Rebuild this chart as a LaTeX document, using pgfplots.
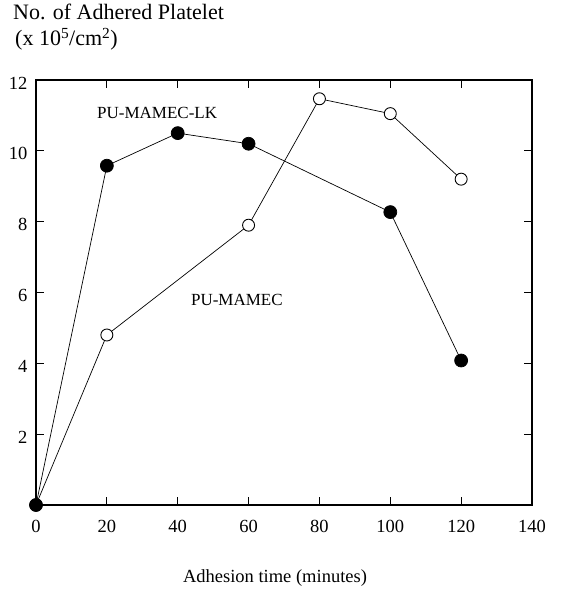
\documentclass[border=0pt]{standalone}
\usepackage{fontspec}
\setmainfont{Liberation Serif}
\usepackage{pgfplots}
\pgfplotsset{compat=1.18}
\usetikzlibrary{calc}

\newcommand{\lab}{\fontsize{17}{20}\selectfont}
\newcommand{\tlab}{\fontsize{18.5}{22}\selectfont}
\newcommand{\ttl}{\fontsize{22}{26}\selectfont}

\begin{document}
\begin{tikzpicture}
\begin{axis}[
    name=ax,
    scale only axis, width=496pt, height=425pt,
    xmin=0, xmax=140, ymin=0, ymax=12,
    xtick={0,20,...,140}, ytick={2,4,...,12},
    tick align=inside, tick pos=both,
    major tick length=8pt,
    axis line style={line width=1.3pt},
    tick style={line width=1pt, black},
    tick label style={font=\tlab},
    /pgf/number format/assume math mode=true,
    xticklabel style={yshift=-12pt},
    yticklabel style={xshift=-5pt, yshift=-3pt},
    clip=false,
]
% PU-MAMEC (open circles)
\addplot[black, line width=0.7pt, mark=*, mark size=6pt,
    mark options={fill=white, line width=0.9pt}] coordinates {
    (0,0)(20,4.8)(60,7.9)(80,11.47)(100,11.05)(120,9.2)
};
% PU-MAMEC-LK (filled circles)
\addplot[black, line width=0.7pt, mark=*, mark size=6.5pt,
    mark options={fill=black}] coordinates {
    (0,0)(20,9.58)(40,10.5)(60,10.2)(100,8.27)(120,4.08)
};
\node[font=\lab] at (axis cs:34.2,11.07) {PU-MAMEC-LK};
\node[font=\lab] at (axis cs:56.7,5.79) {PU-MAMEC};
\end{axis}
\path ($(ax.south west)+(-36pt,-94pt)$) rectangle ($(ax.north east)+(33pt,80pt)$);
\node[font=\ttl, anchor=base west, inner sep=0pt] at ($(ax.north west)+(-23pt,60pt)$) {No. of Adhered Platelet};
\node[font=\ttl, anchor=base west, inner sep=0pt] at ($(ax.north west)+(-21pt,34pt)$) {(x 10\textsuperscript{5}/cm\textsuperscript{2})};
\node[font=\tlab, anchor=base] at ($(ax.south)+(-9pt,-77pt)$) {Adhesion time (minutes)};
\end{tikzpicture}
\end{document}
